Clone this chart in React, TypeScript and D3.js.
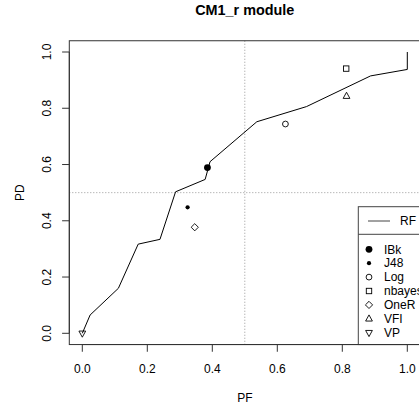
import React from "react";
import * as d3 from "d3";

const title = "CM1_r module";
const xTicks = [0, 0.2, 0.4, 0.6, 0.8, 1.0];
const yTicks = [0, 0.2, 0.4, 0.6, 0.8, 1.0];

const rfPF = [0, 0.024, 0.111, 0.172, 0.239, 0.287, 0.378, 0.393, 0.537, 0.69, 0.887, 1.0, 1.0];
const rfPD = [0, 0.065, 0.16, 0.317, 0.334, 0.503, 0.547, 0.61, 0.752, 0.806, 0.915, 0.938, 1.0];

const learners = ["IBk", "J48", "Log", "nbayes", "OneR", "VFI", "VP"];
const learnerPF = [0.385, 0.324, 0.625, 0.812, 0.346, 0.813, 0.0];
const learnerPD = [0.589, 0.448, 0.744, 0.941, 0.377, 0.843, 0.0];
const learnerPch = [19, 20, 1, 0, 5, 2, 6];

const W = 419;
const H = 409;
const FONT = "Liberation Sans, Arial, Helvetica, sans-serif";

function Symbol({ pch, cx, cy }: { pch: number; cx: number; cy: number }) {
  const s = "#000";
  const sw = 0.9;
  switch (pch) {
    case 19:
      return <circle cx={cx} cy={cy} r={3.4} fill={s} />;
    case 20:
      return <circle cx={cx} cy={cy} r={2.1} fill={s} />;
    case 1:
      return <circle cx={cx} cy={cy} r={2.9} fill="none" stroke={s} strokeWidth={sw} />;
    case 0:
      return <rect x={cx - 2.7} y={cy - 2.7} width={5.4} height={5.4} fill="none" stroke={s} strokeWidth={sw} />;
    case 5: {
      const r = 3.6;
      return (
        <path d={`M${cx},${cy - r}L${cx + r},${cy}L${cx},${cy + r}L${cx - r},${cy}Z`} fill="none" stroke={s} strokeWidth={sw} />
      );
    }
    case 2: {
      const r = 3.9;
      const h = r * 0.866;
      return (
        <path d={`M${cx},${cy - r}L${cx + h * 1.0},${cy + r / 2 + 0.3}L${cx - h},${cy + r / 2 + 0.3}Z`} fill="none" stroke={s} strokeWidth={sw} />
      );
    }
    case 6: {
      const r = 3.9;
      const h = r * 0.866;
      return (
        <path d={`M${cx},${cy + r}L${cx + h},${cy - r / 2 - 0.3}L${cx - h},${cy - r / 2 - 0.3}Z`} fill="none" stroke={s} strokeWidth={sw} />
      );
    }
    default:
      return null;
  }
}

export default function App() {
  const x = d3.scaleLinear().domain([0, 1]).range([82.3, 407.3]);
  const y = d3.scaleLinear().domain([0, 1]).range([333.3, 52]);
  const left = x(-0.04);
  const right = x(1.04);
  const top = y(1.04);
  const bottom = y(-0.04);

  const line = d3
    .line<number>()
    .x((_, i) => x(rfPF[i]))
    .y((d) => y(d));

  const legX = 358.3;
  const legTop = 206.7;
  const legDiv = 234.3;
  const entry0 = 249.3;
  const entryStep = 13.9;

  return (
    <svg
      width={W}
      height={H}
      style={{ position: "absolute", left: 0, top: 0, background: "#fff" }}
      fontFamily={FONT}
    >
      <rect x={0} y={0} width={W} height={H} fill="#fff" />
      <text x={(left + right) / 2} y={15} textAnchor="middle" fontSize={14.4} fontWeight="bold" fill="#000">
        {title}
      </text>

      {/* reference lines */}
      <line x1={x(0.5)} x2={x(0.5)} y1={top} y2={bottom} stroke="#999" strokeWidth={1} strokeDasharray="1,2" />
      <line x1={left} x2={right} y1={y(0.5)} y2={y(0.5)} stroke="#999" strokeWidth={1} strokeDasharray="1,2" />

      {/* RF curve */}
      <path d={line(rfPD) || ""} fill="none" stroke="#000" strokeWidth={1} />

      {/* learner points */}
      {learners.map((name, i) => (
        <Symbol key={name} pch={learnerPch[i]} cx={x(learnerPF[i])} cy={y(learnerPD[i])} />
      ))}

      {/* legend */}
      <rect x={legX} y={legTop} width={right - legX} height={bottom - legTop} fill="#fff" stroke="#444" strokeWidth={1} />
      <line x1={legX} x2={right} y1={legDiv} y2={legDiv} stroke="#444" strokeWidth={1} />
      <line x1={368} x2={390} y1={221} y2={221} stroke="#444" strokeWidth={1} />
      <text x={400} y={221} dy="0.35em" fontSize={12} fill="#000">RF</text>
      {learners.map((name, i) => (
        <g key={"leg" + name}>
          <Symbol pch={learnerPch[i]} cx={369} cy={entry0 + i * entryStep} />
          <text x={384} y={entry0 + i * entryStep} dy="0.35em" fontSize={12} fill="#000">
            {name}
          </text>
        </g>
      ))}

      {/* plot box */}
      <rect x={left} y={top} width={right - left} height={bottom - top} fill="none" stroke="#333" strokeWidth={1} />

      {/* x axis */}
      <line x1={x(0)} x2={x(1)} y1={bottom} y2={bottom} stroke="#333" strokeWidth={1} />
      {xTicks.map((t) => (
        <g key={"xt" + t}>
          <line x1={x(t)} x2={x(t)} y1={bottom} y2={bottom + 7.2} stroke="#333" strokeWidth={1} />
          <text x={x(t)} y={369} dy="0.35em" textAnchor="middle" fontSize={12} fill="#000">
            {t.toFixed(1)}
          </text>
        </g>
      ))}
      <text x={(left + right) / 2} y={398} dy="0.35em" textAnchor="middle" fontSize={12} fill="#000">PF</text>

      {/* y axis */}
      <line x1={left} x2={left} y1={y(0)} y2={y(1)} stroke="#333" strokeWidth={1} />
      {yTicks.map((t) => (
        <g key={"yt" + t}>
          <line x1={left - 7.2} x2={left} y1={y(t)} y2={y(t)} stroke="#333" strokeWidth={1} />
          <text
            transform={`translate(47,${y(t)}) rotate(-90)`}
            dy="0.35em"
            textAnchor="middle"
            fontSize={12}
            fill="#000"
          >
            {t.toFixed(1)}
          </text>
        </g>
      ))}
      <text transform={`translate(20,${(top + bottom) / 2}) rotate(-90)`} dy="0.35em" textAnchor="middle" fontSize={12} fill="#000">
        PD
      </text>
    </svg>
  );
}
